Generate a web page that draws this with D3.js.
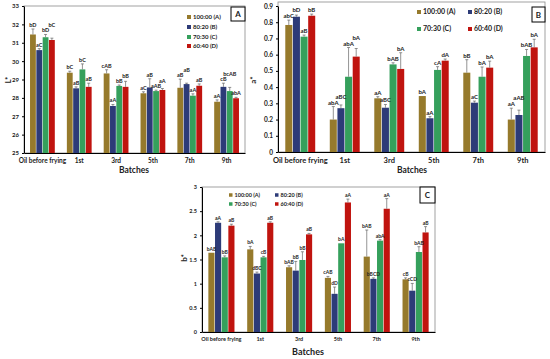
<!DOCTYPE html>
<html lang="en">
<head>
<meta charset="UTF-8">
<title>Colour of oil blends over frying batches</title>
<style>
    body {
        margin: 0;
        background: #fff;
        font-family: Lato, "Open Sans", Arial, sans-serif;
    }
    svg text {
        fill: #222;
    }
    .lab {
        font-family: "Liberation Sans Narrow", "Arial Narrow", Lato, sans-serif;
    }
</style>
<script src="https://d3js.org/d3.v7.min.js"></script>
</head>
<body>
<div id="chart"></div>
<script>

// categories and series
var batches = ["Oil before frying", "1st", "3rd", "5th", "7th", "9th"];
var blends = ["100:00 (A)", "80:20 (B)", "70:30 (C)", "60:40 (D)"];
var colors = ["#967a2c", "#2d3b78", "#35a05c", "#c0140f"];

// panel A : L*  (one row per blend, one value per batch)
var lValues = [
    [31.45, 29.37, 29.33, 28.25, 28.55, 27.79],
    [30.60, 28.52, 27.56, 28.57, 28.75, 28.60],
    [31.30, 29.55, 28.65, 28.37, 28.12, 28.37],
    [31.15, 28.60, 28.60, 28.43, 28.66, 27.98]
];
var lErrors = [
    [0.30, 0.08, 0.20, 0.08, 0.47, 0.10],
    [0.08, 0.08, 0.08, 0.47, 0.05, 0.20],
    [0.15, 0.30, 0.05, 0.05, 0.10, 0.20],
    [0.10, 0.20, 0.30, 0.08, 0.10, 0.05]
];
var lLabels = [
    ["bD", "bC", "cAB", "aC", "aB", "aA"],
    ["aC", "aB", "aA", "aB", "aB", "cB"],
    ["bD", "bC", "bB", "aAB", "aA", "bcAB"],
    ["bC", "aB", "bB", "aA", "aB", "abA"]
];
var lTicks = [25, 26, 27, 28, 29, 30, 31, 32, 33];

// panel B : a*
var aValues = [
    [0.783, 0.200, 0.331, 0.345, 0.489, 0.200],
    [0.834, 0.270, 0.273, 0.208, 0.304, 0.228],
    [0.711, 0.464, 0.540, 0.506, 0.464, 0.592],
    [0.840, 0.588, 0.512, 0.563, 0.520, 0.645]
];
var aErrors = [
    [0.03, 0.08, 0.01, 0.00, 0.08, 0.07],
    [0.01, 0.02, 0.02, 0.01, 0.01, 0.03],
    [0.01, 0.18, 0.01, 0.02, 0.06, 0.04],
    [0.01, 0.05, 0.10, 0.01, 0.04, 0.05]
];
var aLabels = [
    ["abC", "abA", "aA", "bA", "bB", "aA"],
    ["bD", "aBC", "aBC", "aA", "aC", "aAB"],
    ["aB", "abA", "bAB", "cA", "bA", "bAB"],
    ["bB", "bA", "bA", "dA", "bA", "bA"]
];
var aTicks = [0, 0.1, 0.2, 0.3, 0.4, 0.5, 0.6, 0.7, 0.8, 0.9];

// panel C : b*
var bValues = [
    [1.64, 1.71, 1.34, 1.12, 1.56, 1.09],
    [2.26, 1.21, 1.27, 0.79, 1.10, 0.855],
    [1.545, 1.545, 1.49, 1.835, 1.89, 1.655],
    [2.20, 2.26, 2.02, 2.68, 2.55, 2.06]
];
var bErrors = [
    [0.00, 0.06, 0.03, 0.03, 0.55, 0.03],
    [0.02, 0.03, 0.19, 0.14, 0.02, 0.15],
    [0.03, 0.02, 0.17, 0.00, 0.02, 0.11],
    [0.03, 0.02, 0.02, 0.07, 0.21, 0.12]
];
var bLabels = [
    ["bAB", "bA", "bAB", "cAB", "bAB", "cB"],
    ["aA", "dBC", "bB", "dD", "bBCD", "cCD"],
    ["bB", "cB", "bB", "bA", "abA", "bAB"],
    ["aB", "aB", "aB", "aA", "aA", "aB"]
];
var bTicks = [0, 0.5, 1, 1.5, 2, 2.5, 3];

var svg = d3.select("#chart")
    .append("svg")
    .attr("width", 550)
    .attr("height", 359);

var drawPanel = function(p) {
    var g = svg.append("g");

    var x0 = d3.scaleBand()
        .domain(batches)
        .range([p.left, p.right])
        .paddingInner(0.3)
        .paddingOuter(0.15);
    var x1 = d3.scaleBand()
        .domain(d3.range(blends.length))
        .range([0, x0.bandwidth()])
        .padding(0.08);
    var y = d3.scaleLinear()
        .domain(p.domain)
        .range([p.bottom, p.top]);

    // frame around the plot
    g.append("rect")
        .attr("x", p.left)
        .attr("y", p.frameTop)
        .attr("width", p.right - p.left)
        .attr("height", p.bottom - p.frameTop)
        .attr("fill", "none")
        .attr("stroke", "#8a8a8a")
        .attr("stroke-width", 0.8);

    // flatten into one record per bar
    var rows = [];
    p.values.forEach(function(series, s) {
        series.forEach(function(v, b) {
            rows.push({s: s, b: b, v: v, e: p.errors[s][b], lab: p.labels[s][b]});
        });
    });

    g.selectAll("rect.bar")
        .data(rows)
        .enter()
        .append("rect")
        .attr("class", "bar")
        .attr("x", function(d) { return x0(batches[d.b]) + x1(d.s); })
        .attr("width", x1.bandwidth())
        .attr("y", function(d) { return y(d.v); })
        .attr("height", function(d) { return p.bottom - y(d.v); })
        .attr("fill", function(d) { return colors[d.s]; });

    // error bars (upper half only)
    var cx = function(d) { return x0(batches[d.b]) + x1(d.s) + x1.bandwidth() / 2; };
    var eb = g.selectAll("g.err")
        .data(rows.filter(function(d) { return d.e > 0; }))
        .enter()
        .append("g")
        .attr("class", "err")
        .attr("stroke", "#666")
        .attr("stroke-width", 0.7);
    eb.append("line")
        .attr("x1", cx).attr("x2", cx)
        .attr("y1", function(d) { return y(d.v); })
        .attr("y2", function(d) { return y(d.v + d.e); });
    eb.append("line")
        .attr("x1", function(d) { return cx(d) - 1.5; })
        .attr("x2", function(d) { return cx(d) + 1.5; })
        .attr("y1", function(d) { return y(d.v + d.e); })
        .attr("y2", function(d) { return y(d.v + d.e); });

    // letters above bars; a letter that would hit a neighbour is lifted over it
    var placed = [];
    var liftLabel = function(d) {
        var w = d.lab.length * p.labelSize * 0.55;
        var yy = y(d.v + d.e) - 2;
        var moved = true;
        while (moved) {
            moved = false;
            placed.forEach(function(o) {
                if (Math.abs(o.x - cx(d)) < (o.w + w) / 2 + 0.5 && Math.abs(o.y - yy) < p.labelSize) {
                    yy = o.y - p.labelSize;
                    moved = true;
                }
            });
        }
        placed.push({x: cx(d), y: yy, w: w});
        return yy;
    };
    g.selectAll("text.lab")
        .data(rows.slice().sort(function(a, b) { return a.b - b.b || a.s - b.s; }))
        .enter()
        .append("text")
        .attr("class", "lab")
        .attr("x", cx)
        .attr("y", liftLabel)
        .attr("text-anchor", "middle")
        .attr("font-size", p.labelSize)
        .attr("font-weight", "bold")
        .text(function(d) { return d.lab; });

    // axes
    var yAxis = g.append("g")
        .attr("transform", "translate(" + p.left + ",0)")
        .call(d3.axisLeft(y).tickValues(p.ticks).tickSize(2).tickSizeOuter(0).tickFormat(p.fmt));
    yAxis.selectAll("text").attr("font-size", p.tickSize).attr("font-family", "Lato, sans-serif").attr("font-weight", "bold");
    yAxis.select(".domain").attr("stroke", "#000");

    var xAxis = g.append("g")
        .attr("transform", "translate(0," + p.bottom + ")")
        .call(d3.axisBottom(x0).tickSize(0).tickPadding(p.catPad));
    xAxis.selectAll("text").attr("font-size", p.catSize).attr("font-family", "Lato, sans-serif").attr("font-weight", "bold");
    xAxis.select(".domain").attr("stroke", "#000");

    g.append("text")
        .attr("x", p.titleX)
        .attr("y", p.titleY)
        .attr("text-anchor", "middle")
        .attr("font-size", p.titleSize)
        .attr("font-weight", "bold")
        .text("Batches");

    g.append("text")
        .attr("transform", "translate(" + p.yLabX + "," + p.yLabY + ")rotate(-90)")
        .attr("text-anchor", "middle")
        .attr("font-size", 8)
        .attr("font-weight", "bold")
        .text(p.yLab);

    // panel letter box
    g.append("rect")
        .attr("x", p.right - p.boxW)
        .attr("y", p.frameTop + p.boxDy)
        .attr("width", p.boxW)
        .attr("height", p.boxH)
        .attr("fill", "#fff")
        .attr("stroke", "#000")
        .attr("stroke-width", 1);
    g.append("text")
        .attr("x", p.right - p.boxW / 2)
        .attr("y", p.frameTop + p.boxDy + p.boxH / 2 + 3)
        .attr("text-anchor", "middle")
        .attr("font-size", 8)
        .attr("font-weight", "bold")
        .text(p.letter);

    // legend
    var lg = g.selectAll("g.leg")
        .data(blends)
        .enter()
        .append("g")
        .attr("class", "leg")
        .attr("transform", function(d, i) { return "translate(" + p.legPos[i][0] + "," + p.legPos[i][1] + ")"; });
    lg.append("rect")
        .attr("x", 0).attr("y", -p.swatch / 2)
        .attr("width", p.swatch).attr("height", p.swatch)
        .attr("fill", function(d, i) { return colors[i]; });
    lg.append("text")
        .attr("x", p.swatch + 2)
        .attr("y", p.legSize * 0.35)
        .attr("font-size", p.legSize)
        .attr("font-weight", "bold")
        .text(function(d) { return d; });
};

drawPanel({
    left: 24, right: 245, top: 6, bottom: 153, frameTop: 6,
    domain: [25, 33], ticks: lTicks, fmt: d3.format("d"),
    values: lValues, errors: lErrors, labels: lLabels,
    labelSize: 5.5, tickSize: 6, catSize: 6.5, catPad: 5,
    titleX: 134, titleY: 173, titleSize: 8.5,
    yLab: "L*", yLabX: 11, yLabY: 80,
    letter: "A", boxW: 14, boxH: 14, boxDy: 1,
    legPos: [[187, 17], [187, 27], [187, 37], [187, 46]], swatch: 4, legSize: 6
});

drawPanel({
    left: 278, right: 545, top: 6, bottom: 152, frameTop: 2,
    domain: [0, 0.9], ticks: aTicks, fmt: function(d) { return d === 0 ? "0" : d3.format(".1f")(d); },
    values: aValues, errors: aErrors, labels: aLabels,
    labelSize: 6, tickSize: 6.5, catSize: 7.5, catPad: 6,
    titleX: 412, titleY: 173, titleSize: 8.5,
    yLab: "a*", yLabX: 256, yLabY: 80,
    letter: "B", boxW: 13, boxH: 15, boxDy: 5,
    legPos: [[417, 12], [468, 12], [417, 29], [468, 29]], swatch: 4, legSize: 7
});

drawPanel({
    left: 202, right: 435, top: 187, bottom: 332, frameTop: 187,
    domain: [0, 3], ticks: bTicks, fmt: function(d) { return String(d); },
    values: bValues, errors: bErrors, labels: bLabels,
    labelSize: 5, tickSize: 5.5, catSize: 5.5, catPad: 5,
    titleX: 308, titleY: 355, titleSize: 9,
    yLab: "b*", yLabX: 187, yLabY: 258,
    letter: "C", boxW: 15, boxH: 16, boxDy: 0,
    legPos: [[229, 195], [275, 195], [229, 204], [275, 204]], swatch: 3.5, legSize: 5.5
});

</script>
</body>
</html>
